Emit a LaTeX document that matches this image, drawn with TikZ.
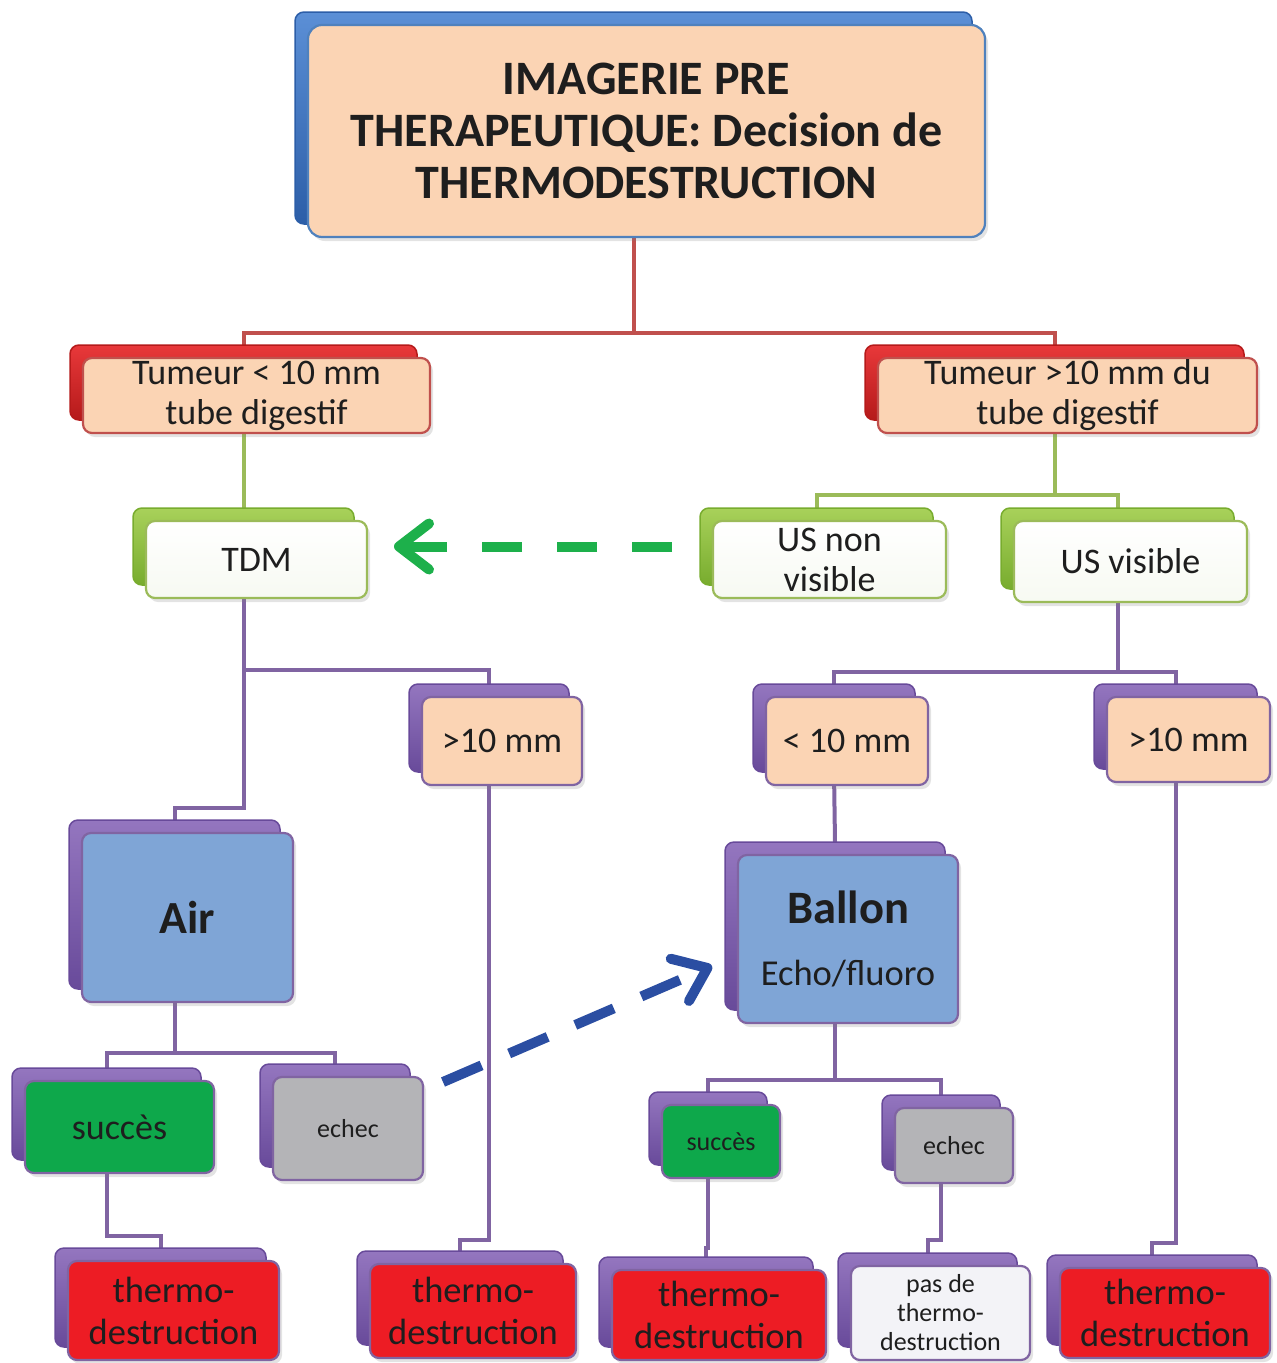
\documentclass[tikz,border=0pt]{standalone}
\usepackage{fontspec}
\setmainfont{Carlito}
\usetikzlibrary{arrows.meta,backgrounds,shadows,calc}
\definecolor{peach}{HTML}{FBD4B4}
\definecolor{txt}{HTML}{1E1E1E}
\definecolor{bborder}{HTML}{4F81BD}
\definecolor{rborder}{HTML}{C0504D}
\definecolor{gborder}{HTML}{9BBB59}
\definecolor{pborder}{HTML}{8064A2}
\definecolor{bluefill}{HTML}{7FA5D6}
\definecolor{okgreen}{HTML}{0EA84B}
\definecolor{greyfill}{HTML}{B4B4B7}
\definecolor{thred}{HTML}{ED1C24}
\definecolor{paleg}{HTML}{F3F3F7}
\definecolor{dgreen}{HTML}{1DB04B}
\definecolor{dblue}{HTML}{2B4EA2}
\definecolor{bkbluetop}{HTML}{5B8FD6}
\definecolor{bkbluebot}{HTML}{2C5EA8}
\definecolor{bkredtop}{HTML}{E8383A}
\definecolor{bkredbot}{HTML}{B51A1A}
\definecolor{bkgreentop}{HTML}{A8D15A}
\definecolor{bkgreenbot}{HTML}{78AC2E}
\definecolor{bkpurtop}{HTML}{9476BF}
\definecolor{bkpurbot}{HTML}{684A9A}
\tikzset{
  base/.style={rectangle, rounded corners=9pt, inner sep=0pt, outer sep=0pt, align=center, text=txt},
  frontbox/.style={base, line width=2.2pt, drop shadow={opacity=0.22, shadow xshift=3pt, shadow yshift=-4pt}},
  backbox/.style={base, line width=1.5pt},
  bkblue/.style={draw=bkbluebot, top color=bkbluetop, bottom color=bkbluebot},
  bkred/.style={draw=bkredbot, top color=bkredtop, bottom color=bkredbot},
  bkgreen/.style={draw=bkgreenbot, top color=bkgreentop, bottom color=bkgreenbot},
  bkpurple/.style={draw=bkpurbot, top color=bkpurtop, bottom color=bkpurbot},
  ftop/.style={draw=bborder, fill=peach, rounded corners=14pt, font=\fontsize{48}{52}\selectfont\bfseries},
  fred/.style={draw=rborder, fill=peach, font=\fontsize{36}{40}\selectfont},
  fgreen/.style={draw=gborder, top color=white, bottom color=gborder!8!white, font=\fontsize{36}{40}\selectfont},
  fpeach/.style={draw=pborder, fill=peach, font=\fontsize{36}{40}\selectfont},
  fblue/.style={draw=pborder, fill=bluefill},
  fok/.style={draw=pborder, fill=okgreen},
  fgrey/.style={draw=pborder, fill=greyfill, font=\fontsize{26}{29}\selectfont},
  fthermo/.style={draw=pborder, fill=thred, font=\fontsize{36.5}{42}\selectfont},
  fpale/.style={draw=pborder, fill=paleg, font=\fontsize{26}{29}\selectfont},
  rline/.style={draw=rborder, line width=4pt},
  gline/.style={draw=gborder, line width=4pt},
  pline/.style={draw=pborder, line width=4pt},
  gdash/.style={draw=dgreen, line width=10pt, dash pattern=on 40pt off 35pt,
     -{Straight Barb[length=30pt, width=46pt, round]}},
  bdash/.style={draw=dblue, line width=10pt, dash pattern=on 42pt off 30pt,
     -{Straight Barb[length=30pt, width=46pt, round]}},
}
\newcommand{\twobox}[8]{%
  \node[backbox,#2,anchor=north west,minimum width={(#6-#4)*1pt},minimum height={(#7-#5)*1pt}] (#1b) at (#4-13,#5-13) {};
  \node[frontbox,#3,anchor=north west,minimum width={(#6-#4)*1pt},minimum height={(#7-#5)*1pt}] (#1) at (#4,#5) {#8};
}
\begin{document}
\begin{tikzpicture}[x=1pt,y=-1pt]
\useasboundingbox (0,0) rectangle (1277,1363);
% level 1
\twobox{top}{bkblue}{ftop}{308}{25}{985}{237}{IMAGERIE PRE\\THERAPEUTIQUE: Decision de\\THERMODESTRUCTION}
% level 2
\twobox{tl}{bkred}{fred}{83}{358}{430}{433}{Tumeur < 10 mm\\tube digestif}
\twobox{tr}{bkred}{fred}{878}{358}{1257}{433}{Tumeur >10 mm du\\tube digestif}
% level 3
\twobox{tdm}{bkgreen}{fgreen}{146}{521}{367}{598}{TDM}
\twobox{usnv}{bkgreen}{fgreen}{713}{521}{946}{598}{US non\\visible}
\twobox{usv}{bkgreen}{fgreen}{1014}{521}{1247}{602}{US visible}
% level 4
\twobox{gl}{bkpurple}{fpeach}{422}{697}{582}{785}{>10 mm}
\twobox{lr}{bkpurple}{fpeach}{766}{697}{928}{785}{< 10 mm}
\twobox{gr}{bkpurple}{fpeach}{1107}{697}{1270}{782}{>10 mm}
% level 5
\twobox{air}{bkpurple}{fblue}{82}{833}{293}{1002}{\fontsize{46}{50}\selectfont\bfseries Air}
\twobox{bal}{bkpurple}{fblue}{738}{855}{958}{1023}{{\fontsize{46.5}{50}\selectfont\bfseries Ballon}\\[36pt]{\fontsize{36.5}{40}\selectfont Echo/fluoro}}
% level 6
\twobox{sl}{bkpurple}{fok}{25}{1081}{214}{1173}{\fontsize{36}{40}\selectfont succès}
\twobox{el}{bkpurple}{fgrey}{273}{1077}{423}{1180}{echec}
\twobox{sr}{bkpurple}{fok}{662}{1105}{780}{1178}{\fontsize{26}{29}\selectfont succès}
\twobox{er}{bkpurple}{fgrey}{895}{1108}{1013}{1183}{echec}
% level 7
\twobox{th1}{bkpurple}{fthermo}{68}{1261}{279}{1360}{thermo-\\destruction}
\twobox{th2}{bkpurple}{fthermo}{370}{1264}{576}{1358}{thermo-\\destruction}
\twobox{th3}{bkpurple}{fthermo}{612}{1270}{826}{1360}{thermo-\\destruction}
\twobox{th4}{bkpurple}{fpale}{851}{1266}{1030}{1360}{pas de\\thermo-\\destruction}
\twobox{th5}{bkpurple}{fthermo}{1060}{1268}{1270}{1358}{thermo-\\destruction}
% connectors
\begin{scope}[on background layer]
\draw[rline] (topb.south) -- (topb.south |- 0,333) -| (tlb.north);
\draw[rline] (topb.south |- 0,333) -| (trb.north);
\draw[gline] (tlb.south) -- (tdmb.north);
\draw[gline] (trb.south) -- (trb.south |- 0,495) -| (usnvb.north);
\draw[gline] (trb.south |- 0,495) -| (usvb.north);
\draw[pline] (tdmb.south) -- (tdmb.south |- 0,808) -| (airb.north);
\draw[pline] (tdmb.south |- 0,670) -| (glb.north);
\draw[pline] (usvb.south) -- (usvb.south |- 0,672) -| (lrb.north);
\draw[pline] (usvb.south |- 0,672) -| (grb.north);
\draw[pline] (lrb.south) -- (balb.north);
\draw[pline] (airb.south) -- (airb.south |- 0,1053) -| (slb.north);
\draw[pline] (airb.south |- 0,1053) -| (elb.north);
\draw[pline] (balb.south) -- (balb.south |- 0,1080) -| (srb.north);
\draw[pline] (balb.south |- 0,1080) -| (erb.north);
\draw[pline] (slb.south) -- (slb.south |- 0,1236) -| (th1b.north);
\draw[pline] (glb.south) -- (glb.south |- 0,1240) -| (th2b.north);
\draw[pline] (srb.south) -- (srb.south |- 0,1248) -| (th3b.north);
\draw[pline] (erb.south) -- (erb.south |- 0,1240) -| (th4b.north);
\draw[pline] (grb.south) -- (grb.south |- 0,1243) -| (th5b.north);
\end{scope}
% dashed arrows
\draw[gdash, shorten <=28pt, shorten >=27pt] (usnvb.west) -- (tdm.east |- usnvb.west);
\coordinate (bs) at ($(el.north east)+(20,5)$);
\coordinate (be) at ($(balb.west)+(-13,40)$);
\draw[bdash] (bs) -- (be);
\end{tikzpicture}
\end{document}
